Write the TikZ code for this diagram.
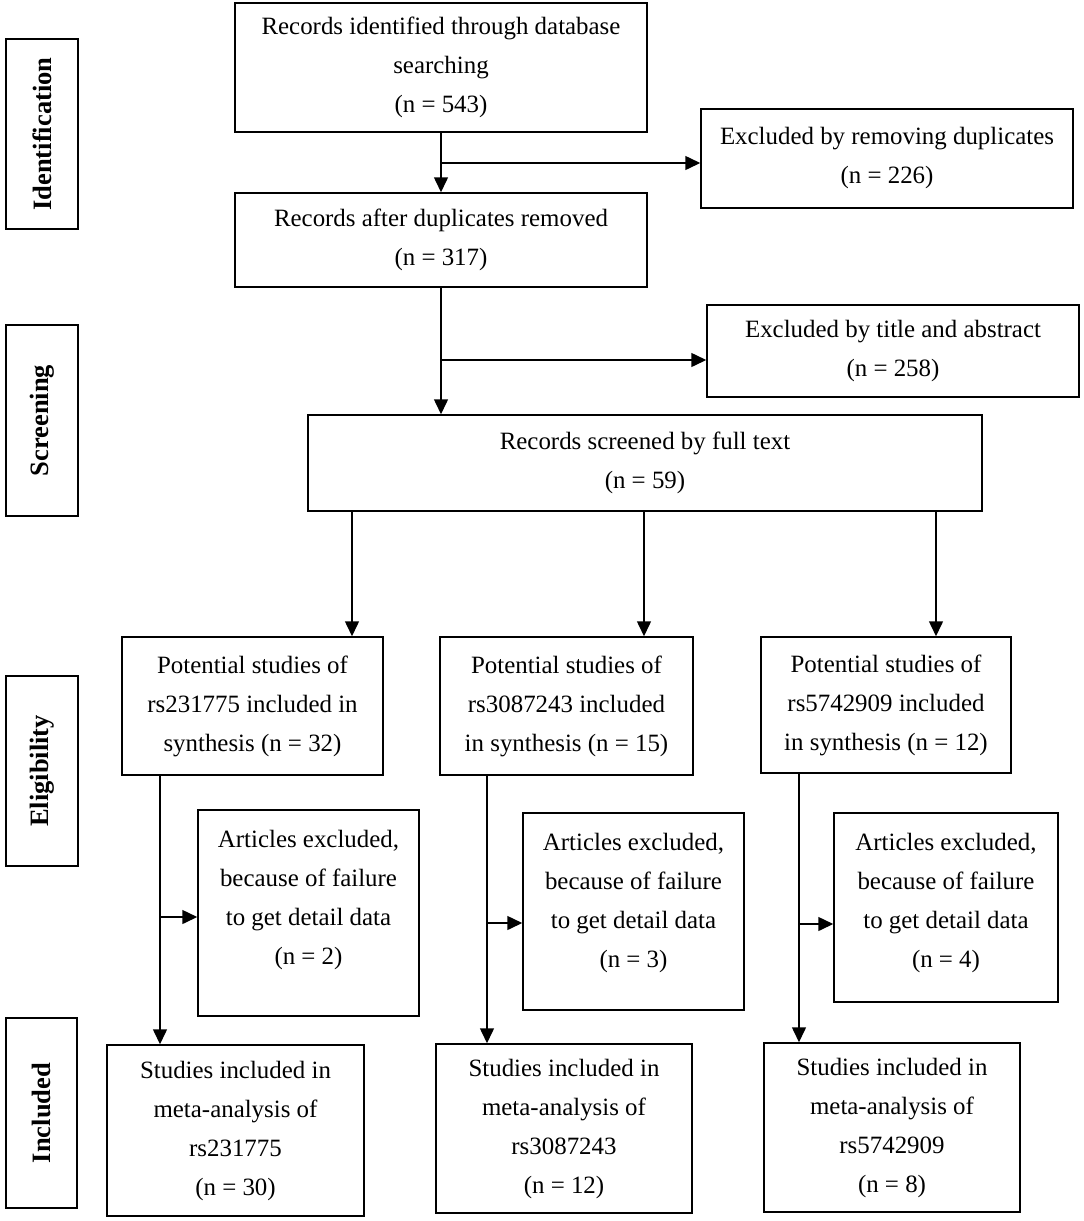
\documentclass[tikz,border=0pt]{standalone}
\usepackage{fontspec}
\setmainfont{Liberation Serif}
\usetikzlibrary{arrows.meta}

\begin{document}
\begin{tikzpicture}[x=1pt,y=-1pt,
	box/.style={draw,line width=1.5pt,inner sep=0pt,align=center,font=\fontsize{24.9}{39}\selectfont},
	stage/.style={draw,line width=1.5pt,inner sep=0pt,rotate=90,minimum width=190pt,minimum height=72pt,font=\fontsize{26.5}{30}\selectfont\bfseries},
	txt/.style={inner sep=0pt,align=center,anchor=north,font=\fontsize{24.9}{39}\selectfont},
	arr/.style={line width=1.5pt,-{Triangle[length=15pt,width=14pt]}}]
	\useasboundingbox (0,0) rectangle (1084,1221);
	% stages
	\node[stage] (idl) at (42,134) {Identification};
	\node[stage,minimum width=191pt] (scl) at (42,420.5) {Screening};
	\node[stage] (ell) at (42,771) {Eligibility};
	\node[stage,minimum height=71pt] (inl) at (41.5,1113) {Included};
	% identification and screening
	\node[box,minimum width=412pt,minimum height=129pt] (b1) at (441,67.5) {Records identified through database\\searching\\(n = 543)};
	\node[box,minimum width=412pt,minimum height=94pt] (b2) at (441,240) {Records after duplicates removed\\(n = 317)};
	\node[box,minimum width=372pt,minimum height=99pt] (dup) at (887,158.5) {Excluded by removing duplicates\\(n = 226)};
	\node[box,minimum width=372pt,minimum height=92pt] (title) at (893,351) {Excluded by title and abstract\\(n = 258)};
	\node[box,minimum width=674pt,minimum height=96pt] (full) at (645,463) {Records screened by full text\\(n = 59)};
	% eligibility
	\node[box,minimum width=261pt,minimum height=138pt] (p1) at (252.5,706) {Potential studies of\\rs231775 included in\\synthesis (n = 32)};
	\node[box,minimum width=253pt,minimum height=138pt] (p2) at (566.5,706) {Potential studies of\\rs3087243 included\\in synthesis (n = 15)};
	\node[box,minimum width=250pt,minimum height=136pt] (p3) at (886,705) {Potential studies of\\rs5742909 included\\in synthesis (n = 12)};
	\node[box,minimum width=221pt,minimum height=206pt] (ex1) at (308.5,913) {};
	\node[box,minimum width=221pt,minimum height=197pt] (ex2) at (633.5,911.5) {};
	\node[box,minimum width=224pt,minimum height=189pt] (ex3) at (946,907.5) {};
	\node[txt] (t1) at ([yshift=-21pt]ex1.north) {Articles excluded,\\because of failure\\to get detail data\\(n = 2)};
	\node[txt] (t2) at ([yshift=-21pt]ex2.north) {Articles excluded,\\because of failure\\to get detail data\\(n = 3)};
	\node[txt] (t3) at ([yshift=-21pt]ex3.north) {Articles excluded,\\because of failure\\to get detail data\\(n = 4)};
	% included
	\node[box,minimum width=257pt,minimum height=171pt] (s1) at (235.5,1130.5) {Studies included in\\meta-analysis of\\rs231775\\(n = 30)};
	\node[box,minimum width=256pt,minimum height=169pt] (s2) at (564,1128.5) {Studies included in\\meta-analysis of\\rs3087243\\(n = 12)};
	\node[box,minimum width=256pt,minimum height=169pt] (s3) at (892,1127.5) {Studies included in\\meta-analysis of\\rs5742909\\(n = 8)};
	% branch points
	\coordinate (d1) at (441,163);
	\coordinate (d2) at (441,360);
	\coordinate (f1) at (352,511);
	\coordinate (f2) at (644,511);
	\coordinate (f3) at (936,511);
	\coordinate (k1) at (160,917);
	\coordinate (k2) at (487,923);
	\coordinate (k3) at (799,924);
	% arrows
	\draw[arr] (b1.south) -- (b2.north);
	\draw[arr] (d1) -- (d1 -| dup.west);
	\draw[arr] (b2.south) -- (b2.south |- full.north);
	\draw[arr] (d2) -- (d2 -| title.west);
	\draw[arr] (f1) -- (f1 |- p1.north);
	\draw[arr] (f2) -- (f2 |- p2.north);
	\draw[arr] (f3) -- (f3 |- p3.north);
	\draw[arr] (k1 |- p1.south) -- (k1 |- s1.north);
	\draw[arr] (k2 |- p2.south) -- (k2 |- s2.north);
	\draw[arr] (k3 |- p3.south) -- (k3 |- s3.north);
	\draw[arr] (k1) -- (k1 -| ex1.west);
	\draw[arr] (k2) -- (k2 -| ex2.west);
	\draw[arr] (k3) -- (k3 -| ex3.west);
\end{tikzpicture}
\end{document}
